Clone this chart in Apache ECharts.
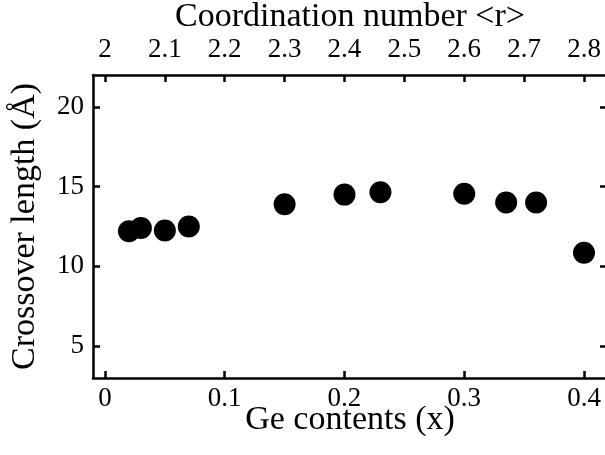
<!DOCTYPE html>
<html>
<head>
<meta charset="utf-8">
<script src="https://cdn.jsdelivr.net/npm/echarts@6/dist/echarts.min.js"></script>
<style>html,body{margin:0;padding:0;background:#fff}#c{width:605px;height:455px}</style>
</head>
<body>
<div id="c"></div>
<script>
// Data
const geContents = [0.02, 0.03, 0.05, 0.07, 0.15, 0.2, 0.23, 0.3, 0.335, 0.36, 0.4];
const crossoverLength = [12.2, 12.4, 12.25, 12.5, 13.9, 14.5, 14.65, 14.55, 14.0, 14.0, 10.85];
const bottomTicks = [0, 0.1, 0.2, 0.3, 0.4];
const topTicks = [2, 2.1, 2.2, 2.3, 2.4, 2.5, 2.6, 2.7, 2.8];
const yTicks = [5, 10, 15, 20];

const xMin = -0.01, xMax = 0.4192;
const toR = x => 2 + 2 * x;
const FONT = 'Liberation Serif';

const axisLine = { show: true, onZero: false, lineStyle: { color: '#000', width: 2.5 } };
const tick = vals => ({ show: true, inside: true, length: 7, lineStyle: { color: '#000', width: 2.5 }, customValues: vals });

const chart = echarts.init(document.getElementById('c'), null, { renderer: 'canvas' });
chart.setOption({
  backgroundColor: '#fff',
  animation: false,
  grid: { left: 93, top: 75, width: 514, height: 303, containLabel: false, outerBoundsMode: 'none' },
  xAxis: [
    {
      type: 'value', position: 'bottom', min: xMin, max: xMax,
      name: 'Ge contents (x)', nameLocation: 'middle', nameGap: 25, nameMoveOverlap: false,
      nameTextStyle: { fontFamily: FONT, fontSize: 34, color: '#000' },
      axisLine: axisLine, axisTick: tick(bottomTicks), splitLine: { show: false },
      axisLabel: { customValues: bottomTicks, fontFamily: FONT, fontSize: 27, color: '#000', margin: 7,
        formatter: v => String(v) }
    },
    {
      type: 'value', position: 'top', min: toR(xMin), max: toR(xMax),
      name: 'Coordination number <r>', nameLocation: 'middle', nameGap: 41, nameMoveOverlap: false,
      nameTextStyle: { fontFamily: FONT, fontSize: 34, color: '#000' },
      axisLine: axisLine, axisTick: tick(topTicks), splitLine: { show: false },
      axisLabel: { customValues: topTicks, fontFamily: FONT, fontSize: 27, color: '#000', margin: 12,
        formatter: v => String(Math.round(v * 10) / 10) }
    }
  ],
  yAxis: [
    {
      type: 'value', position: 'left', min: 3, max: 22,
      name: 'Crossover length (Å)', nameLocation: 'middle', nameGap: 51, nameRotate: 90, nameMoveOverlap: false,
      nameTextStyle: { fontFamily: FONT, fontSize: 34, color: '#000' },
      axisLine: axisLine, axisTick: tick(yTicks), splitLine: { show: false },
      axisLabel: { customValues: yTicks, fontFamily: FONT, fontSize: 27, color: '#000', margin: 9 }
    },
    {
      type: 'value', position: 'right', min: 3, max: 22,
      axisLine: axisLine, axisTick: tick(yTicks), splitLine: { show: false },
      axisLabel: { show: false }
    }
  ],
  series: [{
    type: 'scatter', xAxisIndex: 0, yAxisIndex: 0,
    symbol: 'circle', symbolSize: 22,
    itemStyle: { color: '#000', opacity: 1 },
    data: geContents.map((x, i) => [x, crossoverLength[i]])
  }]
});
</script>
</body>
</html>
